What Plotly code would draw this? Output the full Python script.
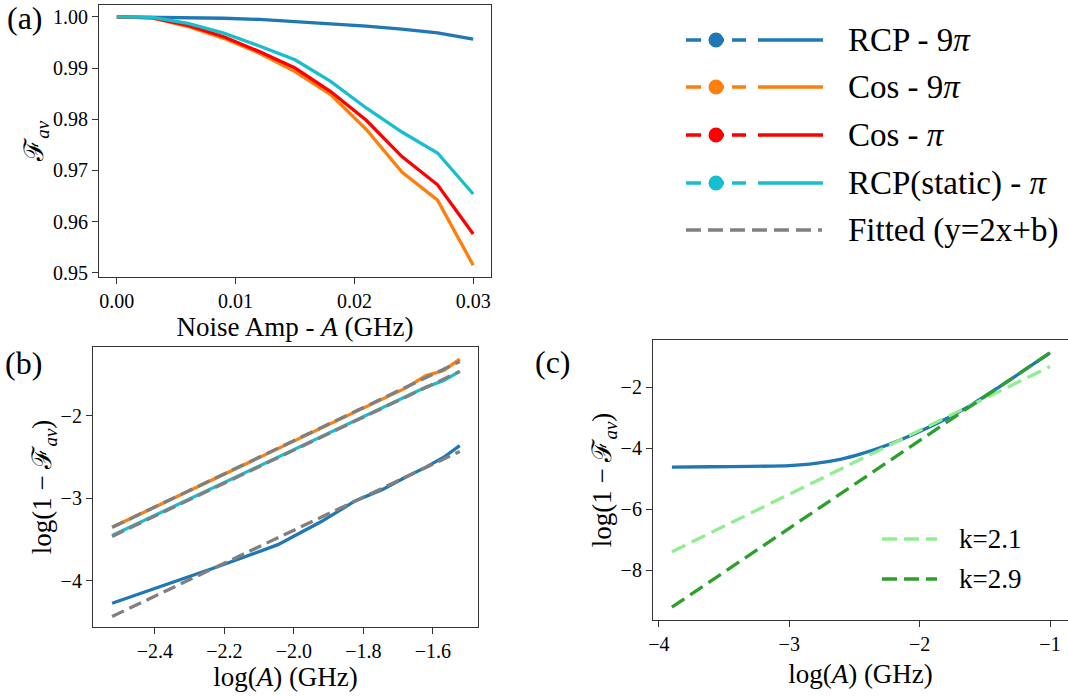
import plotly.graph_objects as go

W, H = 1068, 696


def fx(p):
    return p / W


def fy(p):
    return 1 - p / H


# ---------------- data ----------------
# panel (a): average fidelity vs noise amplitude
noise_amp = [0.0, 0.003, 0.006, 0.009, 0.012, 0.015, 0.018, 0.021, 0.024, 0.027, 0.030]
fid_rcp_9pi = [1.0, 0.99995, 0.99985, 0.99972, 0.99948, 0.99907, 0.99871, 0.99818, 0.99760, 0.99684, 0.99563]
fid_cos_9pi = [1.0, 0.9998, 0.9981, 0.9958, 0.9929, 0.9893, 0.9848, 0.9780, 0.9697, 0.9642, 0.9515]
fid_cos_pi = [1.0, 0.9998, 0.9983, 0.9961, 0.9932, 0.9900, 0.9854, 0.9798, 0.9727, 0.9672, 0.9576]
fid_rcp_static_pi = [1.0, 0.9999, 0.9987, 0.9968, 0.9943, 0.9916, 0.9874, 0.9822, 0.9775, 0.9734, 0.9654]

# panel (b): log-log
log_amp_b = [-2.523, -2.222, -2.046, -1.921, -1.824, -1.745, -1.678, -1.620, -1.569, -1.523]
loginf_rcp_9pi = [-4.27, -3.83, -3.56, -3.28, -3.03, -2.89, -2.74, -2.62, -2.50, -2.36]
loginf_cos_9pi = [-3.35, -2.75, -2.40, -2.15, -1.95, -1.79, -1.66, -1.51, -1.45, -1.31]
loginf_rcp_static_pi = [-3.45, -2.85, -2.50, -2.25, -2.06, -1.90, -1.76, -1.65, -1.57, -1.46]
fit_x = [-2.523, -1.523]
fit_rcp_9pi = [-4.43, -2.43]
fit_cos_9pi = [-3.35, -1.34]
fit_rcp_static_pi = [-3.46, -1.46]

# panel (c): wide range
log_amp_c = [-3.9, -3.6, -3.3, -3.0, -2.8, -2.6, -2.45, -2.3, -2.15, -2.0, -1.8, -1.6, -1.4, -1.2, -1.0]
loginf_c = [-4.62, -4.61, -4.60, -4.57, -4.50, -4.36, -4.19, -3.98, -3.73, -3.45, -3.04, -2.57, -2.02, -1.45, -0.87]
k_x = [-3.9, -1.0]
k21_y = [-7.40, -1.32]
k29_y = [-9.22, -0.87]

# axis titles
title_a_x = "Noise Amp - <i>A</i> (GHz)"
title_a_y = "ℱ<sub><i>av</i></sub>"
title_log_x = "log(<i>A</i>) (GHz)"
title_log_y = "log(1 − ℱ<sub><i>av</i></sub>)"

C_BLUE = "#1f77b4"
C_ORANGE = "#ff7f0e"
C_RED = "#ff0000"
C_CYAN = "#17becf"
C_GREY = "#808080"
C_LGREEN = "#90ee90"
C_GREEN = "#2ca02c"

LW = 3.3
FONT = "Liberation Serif, Times New Roman, serif"

fig = go.Figure()

# panel (a)
for y, c, n in [(fid_rcp_9pi, C_BLUE, "RCP - 9π"), (fid_cos_9pi, C_ORANGE, "Cos - 9π"),
                (fid_cos_pi, C_RED, "Cos - π"), (fid_rcp_static_pi, C_CYAN, "RCP(static) - π")]:
    fig.add_trace(go.Scatter(x=noise_amp, y=y, mode="lines", line=dict(color=c, width=LW),
                             name=n, xaxis="x", yaxis="y"))

# panel (b)
for y, c in [(loginf_cos_9pi, C_ORANGE), (loginf_rcp_static_pi, C_CYAN), (loginf_rcp_9pi, C_BLUE)]:
    fig.add_trace(go.Scatter(x=log_amp_b, y=y, mode="lines", line=dict(color=c, width=LW),
                             xaxis="x2", yaxis="y2"))
for y in [fit_cos_9pi, fit_rcp_static_pi, fit_rcp_9pi]:
    fig.add_trace(go.Scatter(x=fit_x, y=y, mode="lines",
                             line=dict(color=C_GREY, width=LW, dash="13px,6px"),
                             xaxis="x2", yaxis="y2"))

# panel (c)
fig.add_trace(go.Scatter(x=log_amp_c, y=loginf_c, mode="lines",
                         line=dict(color=C_BLUE, width=LW, shape="spline", smoothing=0.6),
                         xaxis="x3", yaxis="y3"))
fig.add_trace(go.Scatter(x=k_x, y=k21_y, mode="lines", line=dict(color=C_LGREEN, width=LW, dash="15px,7px"),
                         name="k=2.1", xaxis="x3", yaxis="y3"))
fig.add_trace(go.Scatter(x=k_x, y=k29_y, mode="lines", line=dict(color=C_GREEN, width=LW, dash="15px,7px"),
                         name="k=2.9", xaxis="x3", yaxis="y3"))

axis_common = dict(showline=True, linecolor="#333333", linewidth=1.2, mirror=True,
                   ticks="outside", ticklen=6, tickwidth=1.2, tickcolor="#333333",
                   showgrid=False, zeroline=False, automargin=False,
                   tickfont=dict(family=FONT, size=20, color="black"))
TF = dict(family=FONT, size=27, color="black")

fig.update_layout(
    width=W, height=H, margin=dict(l=0, r=0, t=0, b=0),
    paper_bgcolor="white", plot_bgcolor="white", showlegend=False,
    font=dict(family=FONT, size=20, color="black"),
    xaxis=dict(axis_common, domain=[fx(99), fx(491)], range=[-0.0015, 0.0315], anchor="y",
               tickvals=[0, 0.01, 0.02, 0.03], tickformat=".2f",
               title=dict(text=title_a_x, font=TF, standoff=6)),
    yaxis=dict(axis_common, domain=[fy(277), fy(4.5)], range=[0.9492, 1.0024], anchor="x",
               tickvals=[0.95, 0.96, 0.97, 0.98, 0.99, 1.0], tickformat=".2f",
               title=dict(text=title_a_y, font=TF, standoff=0)),
    xaxis2=dict(axis_common, domain=[fx(93), fx(478)], range=[-2.578, -1.4705], anchor="y2",
                tickvals=[-2.4, -2.2, -2.0, -1.8, -1.6], tickformat=".1f",
                title=dict(text=title_log_x, font=TF, standoff=3)),
    yaxis2=dict(axis_common, domain=[fy(627), fy(347)], range=[-4.558, -1.164], anchor="x2",
                tickvals=[-4, -3, -2], tickformat="d",
                title=dict(text=title_log_y, font=TF, standoff=0)),
    xaxis3=dict(axis_common, domain=[fx(653), 1.0], range=[-4.045, -0.862], anchor="y3",
                tickvals=[-4, -3, -2, -1], tickformat="d",
                title=dict(text=title_log_x, font=TF, standoff=10)),
    yaxis3=dict(axis_common, domain=[fy(620), fy(340)], range=[-9.64, -0.45], anchor="x3",
                tickvals=[-8, -6, -4, -2], tickformat="d", mirror=False,
                title=dict(text=title_log_y, font=TF, standoff=0)),
)

ann = []
shapes = []


def text(x, y, s, size, anchor="center"):
    ann.append(dict(x=fx(x), y=fy(y), xref="paper", yref="paper", text=s, showarrow=False,
                    xanchor=anchor, yanchor="middle", borderpad=0,
                    font=dict(family=FONT, size=size, color="black")))


# panel labels
text(25, 18, "(a)", 32)
text(23, 363, "(b)", 32)
text(553, 362, "(c)", 32)

# main legend (dashed+marker / solid pairs)
legend_rows = [("RCP - 9<i>π</i>", C_BLUE, 40), ("Cos - 9<i>π</i>", C_ORANGE, 87),
               ("Cos - <i>π</i>", C_RED, 135), ("RCP(static) - <i>π</i>", C_CYAN, 183)]
for label, col, y in legend_rows:
    shapes.append(dict(type="line", xref="paper", yref="paper", x0=fx(686), x1=fx(746), y0=fy(y), y1=fy(y),
                       line=dict(color=col, width=LW, dash="15px,8px")))
    shapes.append(dict(type="circle", xref="paper", yref="paper", x0=fx(708.5), x1=fx(723.5),
                       y0=fy(y + 7.5), y1=fy(y - 7.5), fillcolor=col, line=dict(color=col, width=0)))
    shapes.append(dict(type="line", xref="paper", yref="paper", x0=fx(758), x1=fx(823), y0=fy(y), y1=fy(y),
                       line=dict(color=col, width=LW)))
    text(847, y, label, 33, anchor="left")
shapes.append(dict(type="line", xref="paper", yref="paper", x0=fx(686), x1=fx(822), y0=fy(230), y1=fy(230),
                   line=dict(color=C_GREY, width=LW, dash="15px,7px")))
text(847, 230, "Fitted (y=2x+b)", 33, anchor="left")

# panel (c) legend
for label, col, y in [("k=2.1", C_LGREEN, 539), ("k=2.9", C_GREEN, 579)]:
    shapes.append(dict(type="line", xref="paper", yref="paper", x0=fx(882), x1=fx(937), y0=fy(y), y1=fy(y),
                       line=dict(color=col, width=LW, dash="15px,7px")))
    text(958, y, label, 27, anchor="left")

fig.update_layout(annotations=ann, shapes=shapes)
fig.write_html("out.html", config={"displayModeBar": False},
               post_script="document.body.style.margin='0px';document.body.style.overflow='hidden';")
